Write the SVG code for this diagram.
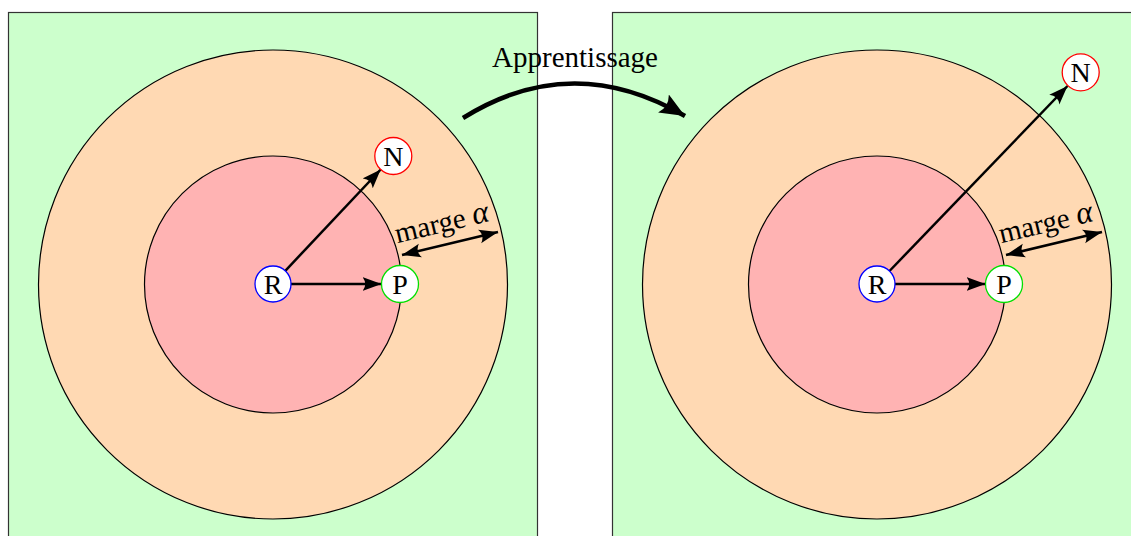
<svg xmlns="http://www.w3.org/2000/svg" width="1131" height="536" viewBox="0 0 1131 536">
<style>
.bg{fill:#CCFFCC;stroke:#333;stroke-width:1.2}
.outer{fill:#FFD9B3;stroke:#000;stroke-width:1.2}
.inner{fill:#FFB3B3;stroke:#000;stroke-width:1.2}
.node{fill:#fff;stroke-width:1.3}
.lbl{font-family:"Liberation Serif","Times New Roman",serif;font-size:28px;fill:#000}
.big{font-size:29px}
.edge{stroke:#000;stroke-width:2.5;fill:none}
</style>
<defs>
<marker id="ah" markerUnits="userSpaceOnUse" markerWidth="22" markerHeight="16" refX="19" refY="7.5" orient="auto-start-reverse" viewBox="0 0 22 16">
<path d="M0,0.5 Q5.5,7.5 0,14.5 L19,7.5 Z" fill="#000"/>
</marker>
<marker id="ahb" markerUnits="userSpaceOnUse" markerWidth="28" markerHeight="22" refX="25" refY="10.5" orient="auto" viewBox="0 0 28 22">
<path d="M0,0 Q7,10.5 0,21 L25,10.5 Z" fill="#000"/>
</marker>
</defs>
<g id="left-panel">
<rect class="bg" x="8.5" y="12.5" width="529" height="540"/>
<circle class="outer" cx="273" cy="284.5" r="234.5"/>
<circle class="inner" cx="273" cy="284.5" r="128.5"/>
</g>
<g id="right-panel">
<rect class="bg" x="612.5" y="12.5" width="529" height="540"/>
<circle class="outer" cx="877" cy="284.5" r="234.5"/>
<circle class="inner" cx="877" cy="284.5" r="128.5"/>
</g>
<g id="connectors">
<line class="edge" x1="291" y1="284" x2="381.5" y2="284" marker-end="url(#ah)"/>
<line class="edge" x1="285.3" y1="270.8" x2="380.7" y2="169.5" marker-end="url(#ah)"/>
<line class="edge" x1="402" y1="255" x2="498" y2="232" marker-start="url(#ah)" marker-end="url(#ah)"/>
<line class="edge" x1="895" y1="284" x2="985.5" y2="284" marker-end="url(#ah)"/>
<line class="edge" x1="889.5" y1="271" x2="1067.5" y2="86" marker-end="url(#ah)"/>
<line class="edge" x1="1006" y1="255" x2="1102" y2="232" marker-start="url(#ah)" marker-end="url(#ah)"/>
<path d="M463,118 Q572,50 685,116" stroke="#000" stroke-width="4.5" fill="none" marker-end="url(#ahb)"/>
</g>
<g id="labels">
<text class="lbl big" x="575" y="67" text-anchor="middle">Apprentissage</text>
<text class="lbl big" x="444" y="232" text-anchor="middle" transform="rotate(-13.5 444 232)">marge <tspan font-style="italic" font-size="32">α</tspan></text>
<text class="lbl big" x="1048" y="232" text-anchor="middle" transform="rotate(-13.5 1048 232)">marge <tspan font-style="italic" font-size="32">α</tspan></text>
</g>
<g id="node-R-left"><circle class="node" cx="273" cy="284" r="18" stroke="#0000FF"/><text class="lbl" x="273" y="293.5" text-anchor="middle">R</text></g>
<g id="node-P-left"><circle class="node" cx="400" cy="284" r="18.5" stroke="#00E000"/><text class="lbl" x="400" y="293.5" text-anchor="middle">P</text></g>
<g id="node-N-left"><circle class="node" cx="393.3" cy="156" r="18.5" stroke="#FF0000"/><text class="lbl" x="393.3" y="165.5" text-anchor="middle">N</text></g>
<g id="node-R-right"><circle class="node" cx="877" cy="284" r="18" stroke="#0000FF"/><text class="lbl" x="877" y="293.5" text-anchor="middle">R</text></g>
<g id="node-P-right"><circle class="node" cx="1004" cy="284" r="18.5" stroke="#00E000"/><text class="lbl" x="1004" y="293.5" text-anchor="middle">P</text></g>
<g id="node-N-right"><circle class="node" cx="1080.7" cy="72.3" r="18.5" stroke="#FF0000"/><text class="lbl" x="1080.7" y="81.8" text-anchor="middle">N</text></g>
</svg>
